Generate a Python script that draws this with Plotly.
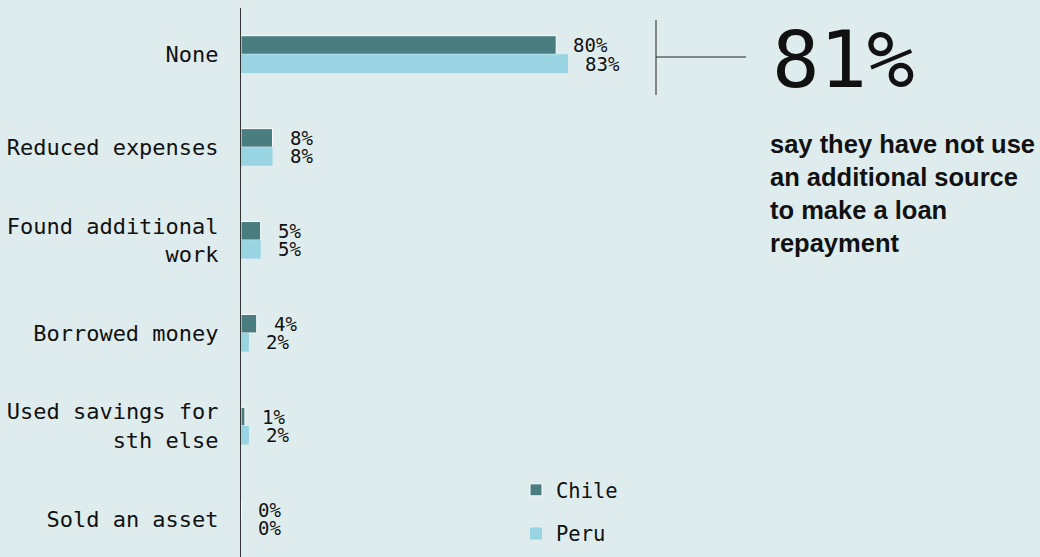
import plotly.graph_objects as go

categories = ["None", "Reduced expenses", "Found additional<br>work", "Borrowed money",
              "Used savings for<br>sth else", "Sold an asset"]
chile = [80, 8, 5, 4, 1, 0]
peru = [83, 8, 5, 2, 2, 0]
series_names = ["Chile", "Peru"]
headline = "81%"
headline_text = "say they have not use<br>an additional source<br>to make a loan<br>repayment"

BG = "#dfeced"
C_CHILE = "#497d80"
C_PERU = "#99d4e3"
MONO = "DejaVu Sans Mono"

W, H = 1040, 557
L, T = 241, 8
PX_PER = 3.94
plot_w = W - L
plot_h = H - T
xmax = plot_w / PX_PER

def px_x(px):
    return (px - L) / plot_w

def px_y(py):
    return (H - py) / plot_h

idx = list(range(len(categories)))

fig = go.Figure()
fig.add_trace(go.Bar(y=idx, x=chile, orientation="h", name=series_names[0],
                     marker=dict(color=C_CHILE, line=dict(color="white", width=1)),
                     legendgroup="a", hoverinfo="skip"))
fig.add_trace(go.Bar(y=idx, x=peru, orientation="h", name=series_names[1],
                     marker=dict(color=C_PERU, line=dict(color=C_PERU, width=0)),
                     legendgroup="b", hoverinfo="skip"))

annotations = []
for i in idx:
    for vals, dy in ((chile, -0.1), (peru, 0.1)):
        annotations.append(dict(x=vals[i], y=i + dy, xref="x", yref="y",
                                text=f"{vals[i]}%", showarrow=False,
                                xanchor="left", yanchor="middle", xshift=15,
                                font=dict(family=MONO, size=19, color="#111")))

annotations.append(dict(x=px_x(770), y=px_y(60), xref="paper", yref="paper",
                        text=headline, showarrow=False, xanchor="left", yanchor="middle",
                        font=dict(family=MONO, size=79, color="#111")))
annotations.append(dict(x=px_x(768), y=px_y(128), xref="paper", yref="paper",
                        text="<b>" + headline_text + "</b>", showarrow=False,
                        xanchor="left", yanchor="top", align="left",
                        font=dict(family="Liberation Sans", size=25.5, color="#111")))

shapes = [
    dict(type="line", xref="paper", yref="paper", x0=px_x(656), x1=px_x(656),
         y0=px_y(20), y1=px_y(95), line=dict(color="#222", width=1)),
    dict(type="line", xref="paper", yref="paper", x0=px_x(656), x1=px_x(746),
         y0=px_y(57), y1=px_y(57), line=dict(color="#222", width=1)),
]

c0 = 54.3
step = 92.9
fig.update_layout(
    width=W, height=H,
    margin=dict(l=L, r=0, t=T, b=0),
    paper_bgcolor=BG, plot_bgcolor=BG,
    barmode="group", bargap=0.6, bargroupgap=0,
    xaxis=dict(range=[0, xmax], visible=False),
    yaxis=dict(range=[(H - c0) / step, (T - c0) / step], tickmode="array",
               tickvals=idx, ticktext=categories, showline=True, linecolor="#333",
               linewidth=1, showgrid=False, zeroline=False, ticks="",
               ticklabelstandoff=17,
               tickfont=dict(family=MONO, size=22, color="#111")),
    showlegend=True,
    legend=dict(x=px_x(516), y=px_y(470), xanchor="left", yanchor="top",
                bgcolor="rgba(0,0,0,0)", traceorder="grouped", tracegroupgap=14,
                font=dict(family=MONO, size=20.5, color="#111")),
    annotations=annotations, shapes=shapes,
)

fig.write_html("out.html")
